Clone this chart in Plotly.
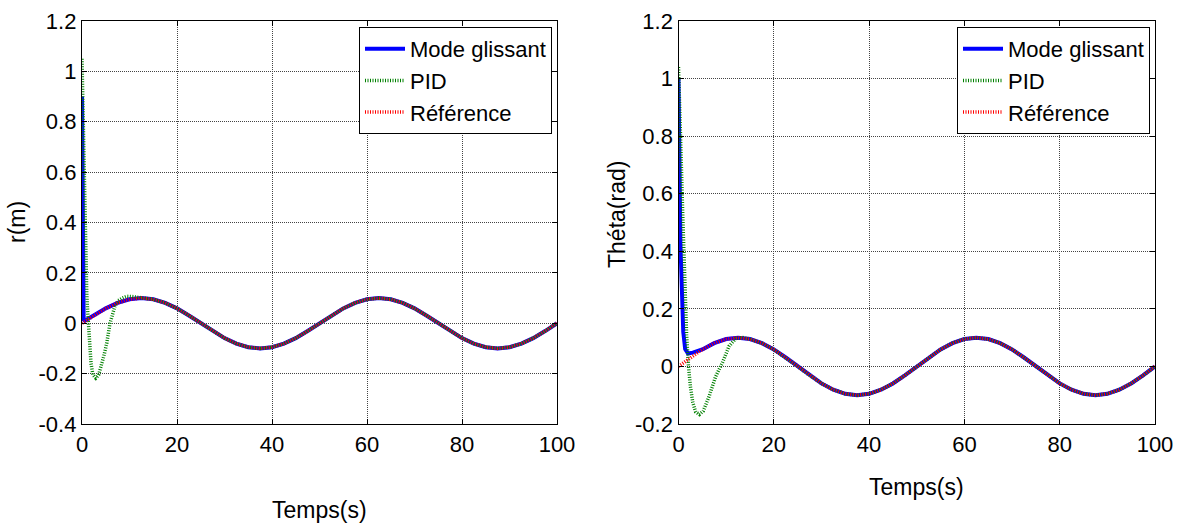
import plotly.graph_objects as go

# ---------------- data ----------------
# reference trajectory (same for both plots)
t_ref = [0, 2.5, 5, 7.5, 10, 12.5, 15, 17.5, 20, 22.5, 25, 27.5, 30, 32.5, 35, 37.5,
         40, 42.5, 45, 47.5, 50, 52.5, 55, 57.5, 60, 62.5, 65, 67.5, 70, 72.5, 75,
         77.5, 80, 82.5, 85, 87.5, 90, 92.5, 95, 97.5, 100]
ref = [0.0, 0.031, 0.059, 0.081, 0.095, 0.1, 0.095, 0.081, 0.059, 0.031, 0.0,
       -0.031, -0.059, -0.081, -0.095, -0.1, -0.095, -0.081, -0.059, -0.031, 0.0,
       0.031, 0.059, 0.081, 0.095, 0.1, 0.095, 0.081, 0.059, 0.031, 0.0,
       -0.031, -0.059, -0.081, -0.095, -0.1, -0.095, -0.081, -0.059, -0.031, 0.0]

# left plot r(m): transients
t_smc_r = [0, 0.1, 0.2, 0.35, 0.6]
smc_r = [0.90, 0.32, 0.05, 0.015, 0.01]
t_pid_r = [0, 0.2, 0.4, 0.6, 0.8, 1.0, 1.15, 1.35, 1.6, 1.9, 2.3, 2.9, 3.5, 4.1, 4.6,
           5.2, 5.9, 6.9, 7.6, 8.5, 9.4, 10.5, 11.5]
pid_r = [1.05, 0.85, 0.6, 0.37, 0.22, 0.12, 0.06, 0.0, -0.08, -0.16, -0.205, -0.218,
         -0.205, -0.17, -0.13, -0.08, 0.0, 0.066, 0.09, 0.1, 0.107, 0.106, 0.103]

# right plot Theta(rad): transients
t_smc_th = [0, 0.1, 0.2, 0.3, 0.4, 0.55, 0.75, 1.0, 1.4, 2.0, 3.0, 4.0]
smc_th = [1.0, 0.8, 0.65, 0.52, 0.43, 0.35, 0.23, 0.12, 0.06, 0.045, 0.048, 0.052]
t_pid_th = [0, 0.3, 0.6, 0.9, 1.2, 1.4, 1.7, 2.1, 2.5, 3.0, 3.6, 4.4, 5.2, 6.4, 7.8,
            9.2, 10.6, 12.0, 13.5]
pid_th = [1.04, 0.9, 0.7, 0.52, 0.34, 0.23, 0.11, 0.0, -0.07, -0.125, -0.158, -0.167,
          -0.155, -0.105, -0.035, 0.012, 0.07, 0.097, 0.1]

x_ticks = [0, 20, 40, 60, 80, 100]
x_ticklabels = ["0", "20", "40", "60", "80", "100"]
yl_ticks = [-0.4, -0.2, 0, 0.2, 0.4, 0.6, 0.8, 1.0, 1.2]
yl_ticklabels = ["-0.4", "-0.2", "0", "0.2", "0.4", "0.6", "0.8", "1", "1.2"]
yr_ticks = [-0.2, 0, 0.2, 0.4, 0.6, 0.8, 1.0, 1.2]
yr_ticklabels = ["-0.2", "0", "0.2", "0.4", "0.6", "0.8", "1", "1.2"]

names = ["Mode glissant", "PID", "Référence"]


def join(t_head, v_head):
    tt = list(t_head) + [t for t in t_ref if t > t_head[-1] + 0.5]
    vv = list(v_head) + [v for t, v in zip(t_ref, ref) if t > t_head[-1] + 0.5]
    return tt, vv


W, H = 1184, 525
ML, MR, MT, MB = 82, 29, 21, 101
PW, PH = W - ML - MR, H - MT - MB


def px(xp):
    return (xp - ML) / PW


def py(yp):
    return (H - MB - yp) / PH


FONT = "Liberation Sans, Arial, sans-serif"
FS_TICK = 22
FS = 23
FS_LEG = 22

fig = go.Figure()

styles = [dict(color="#0000ff", width=4),
          dict(color="#008000", width=3.5, dash="1px,1.5px"),
          dict(color="#ff0000", width=3.5, dash="1px,1.5px")]

panels = [
    ("x", "y", "legend", (t_smc_r, smc_r), (t_pid_r, pid_r)),
    ("x2", "y2", "legend2", (t_smc_th, smc_th), (t_pid_th, pid_th)),
]
for xa, ya, lg, smc, pid in panels:
    series = [join(*smc), join(*pid), (t_ref, ref)]
    for (tt, vv), nm, st in zip(series, names, styles):
        fig.add_trace(go.Scatter(x=tt, y=vv, mode="lines", name=nm, line=st,
                                 xaxis=xa, yaxis=ya, legend=lg, showlegend=True))

axis_common = dict(showline=True, linecolor="black", linewidth=1.3, mirror="ticks",
                   ticks="inside", ticklen=5, tickcolor="black", tickwidth=1,
                   showgrid=True, gridcolor="#444444", gridwidth=1, griddash="1px,1px",
                   zeroline=False, automargin=False,
                   tickfont=dict(family=FONT, size=FS_TICK, color="black"))

leg_common = dict(bgcolor="white", bordercolor="black", borderwidth=1,
                  font=dict(family=FONT, size=FS_LEG, color="black"), tracegroupgap=0,
                  itemwidth=40, yanchor="top", xanchor="right")

fig.update_layout(
    width=W, height=H,
    margin=dict(l=ML, r=MR, t=MT, b=MB, autoexpand=False),
    paper_bgcolor="white", plot_bgcolor="white",
    font=dict(family=FONT, size=FS, color="black"),
    xaxis=dict(domain=[0, px(557)], range=[0, 100], anchor="y", tickvals=x_ticks,
               ticktext=x_ticklabels, **axis_common),
    yaxis=dict(domain=[0, 1], range=[-0.4, 1.2], anchor="x", tickvals=yl_ticks,
               ticktext=yl_ticklabels, **axis_common),
    xaxis2=dict(domain=[px(678.5), 1], range=[0, 100], anchor="y2", tickvals=x_ticks,
                ticktext=x_ticklabels, **axis_common),
    yaxis2=dict(domain=[0, 1], range=[-0.2, 1.2], anchor="x2", tickvals=yr_ticks,
                ticktext=yr_ticklabels, **axis_common),
    legend=dict(x=px(552), y=py(27), **leg_common),
    legend2=dict(x=px(1150), y=py(27), **leg_common),
    showlegend=True,
)

ann = dict(xref="paper", yref="paper", showarrow=False,
           font=dict(family=FONT, size=FS, color="black"))
fig.add_annotation(text="Temps(s)", x=px((82 + 557) / 2), y=py(510),
                   xanchor="center", yanchor="middle", **ann)
fig.add_annotation(text="Temps(s)", x=px((678.5 + 1155) / 2), y=py(487),
                   xanchor="center", yanchor="middle", **ann)
fig.add_annotation(text="r(m)", x=px(17), y=py(222), textangle=-90,
                   xanchor="center", yanchor="middle", **ann)
fig.add_annotation(text="Théta(rad)", x=px(617), y=py(215), textangle=-90,
                   xanchor="center", yanchor="middle", **ann)

fig.write_html(
    "out.html",
    config={"displayModeBar": False},
    post_script="document.body.style.margin='0';document.body.style.overflow='hidden';",
)
